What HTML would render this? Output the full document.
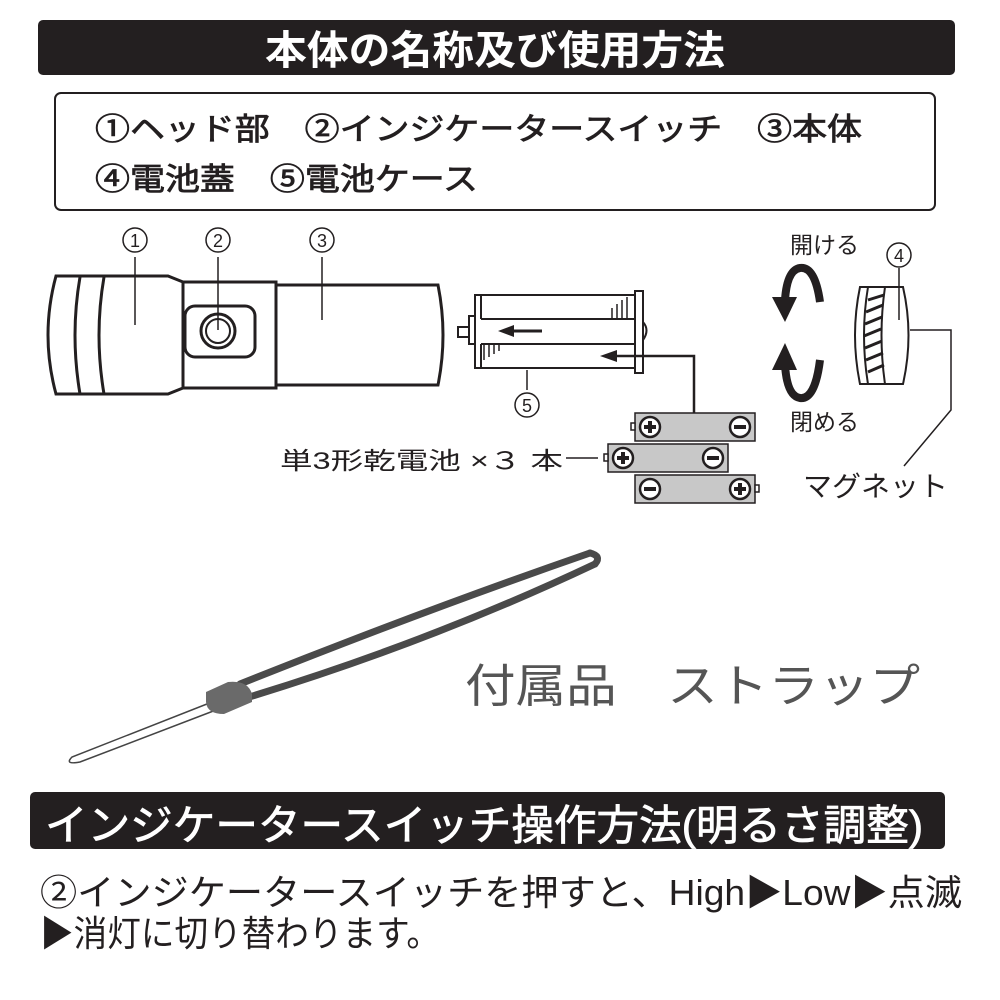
<!DOCTYPE html>
<html><head><meta charset="utf-8"><style>
html,body{margin:0;padding:0;background:#fff;}
svg{display:block;}
text{font-family:"Liberation Sans","Noto Sans CJK JP",sans-serif;}
</style></head><body>
<svg width="1000" height="1000" viewBox="0 0 1000 1000" xmlns="http://www.w3.org/2000/svg">
<!-- header -->
<rect x="38" y="20" width="917" height="55" rx="5" fill="#231f20"/>
<text x="265" y="64" font-size="40" font-weight="bold" fill="#fff" textLength="460" lengthAdjust="spacingAndGlyphs">本体の名称及び使用方法</text>
<rect x="55" y="93" width="880" height="117" rx="6" fill="none" stroke="#231f20" stroke-width="2"/>
<text x="95" y="140" font-size="31" fill="#231f20" stroke="#231f20" stroke-width="0.8" textLength="767" lengthAdjust="spacingAndGlyphs">①ヘッド部　②インジケータースイッチ　③本体</text>
<text x="95" y="190" font-size="31" fill="#231f20" stroke="#231f20" stroke-width="0.8" textLength="383" lengthAdjust="spacingAndGlyphs">④電池蓋　⑤電池ケース</text>

<!-- flashlight -->
<g fill="none" stroke="#231f20" stroke-width="3">
<path d="M56 276 Q40 335 56 394 L168 394 L183 388 L183 282 L168 276 Z"/>
<path d="M80 277 Q70 335 80 394"/>
<path d="M104 277 Q94 335 104 394"/>
<rect x="183" y="282" width="93" height="106"/>
<rect x="185" y="306" width="70" height="51" rx="10"/>
<circle cx="218" cy="331" r="17"/>
<circle cx="218" cy="331" r="12" stroke-width="2"/>
<path d="M276 285 L438 285 Q448 335 438 385 L276 385"/>
</g>
<g stroke="#231f20" stroke-width="1.5" fill="none">
<circle cx="135" cy="240" r="12"/><line x1="135" y1="257" x2="135" y2="325"/>
<circle cx="218" cy="240" r="12"/><line x1="218" y1="257" x2="218" y2="330"/>
<circle cx="322" cy="240" r="12"/><line x1="322" y1="257" x2="322" y2="320"/>
</g>
<text x="135" y="247" font-size="18" text-anchor="middle" fill="#231f20">1</text>
<text x="218" y="247" font-size="18" text-anchor="middle" fill="#231f20">2</text>
<text x="322" y="247" font-size="18" text-anchor="middle" fill="#231f20">3</text>

<!-- battery case -->
<g fill="none" stroke="#231f20" stroke-width="2">
<rect x="475" y="295" width="160" height="73"/>
<line x1="481" y1="295" x2="481" y2="319"/><line x1="481" y1="319" x2="635" y2="319"/>
<line x1="481" y1="344" x2="635" y2="344"/><line x1="481" y1="344" x2="481" y2="368"/>
<rect x="635" y="291" width="8" height="82" fill="#fff"/>
<rect x="469" y="316" width="6" height="28" fill="#fff"/>
<rect x="458" y="327" width="11" height="10" fill="#fff"/>
<path d="M643 322 Q650 330 643 340"/>
</g>
<g stroke="#231f20" stroke-width="1.5">
<line x1="612" y1="318" x2="612" y2="308"/><line x1="617" y1="318" x2="617" y2="304"/><line x1="622" y1="318" x2="622" y2="300"/><line x1="627" y1="318" x2="627" y2="297"/>
<line x1="484" y1="345" x2="484" y2="360"/><line x1="489" y1="345" x2="489" y2="357"/><line x1="494" y1="345" x2="494" y2="354"/><line x1="499" y1="345" x2="499" y2="351"/>
</g>
<path d="M542 331 L512 331" stroke="#231f20" stroke-width="3"/><path d="M498 331 L514 325 L514 337 Z" fill="#231f20"/>
<path d="M694 417 L694 356 L616 356" stroke="#231f20" stroke-width="2.5" fill="none"/><path d="M600 356 L617 350 L617 362 Z" fill="#231f20"/>
<line x1="527" y1="370" x2="527" y2="390" stroke="#231f20" stroke-width="1.5"/>
<circle cx="527" cy="405" r="12" stroke="#231f20" stroke-width="1.5" fill="none"/>
<text x="527" y="412" font-size="18" text-anchor="middle" fill="#231f20">5</text>

<!-- batteries -->
<g stroke="#231f20" stroke-width="1.5">
<rect x="635" y="413" width="120" height="28" fill="#c8c8c8"/>
<rect x="608" y="444" width="120" height="28" fill="#c8c8c8"/>
<rect x="635" y="475" width="120" height="28" fill="#c8c8c8"/>
<rect x="631" y="423" width="4" height="7" fill="#fff"/>
<rect x="604" y="454" width="4" height="7" fill="#fff"/>
<rect x="755" y="485" width="4" height="7" fill="#fff"/>
</g>
<g fill="#fff" stroke="#231f20" stroke-width="2.5">
<circle cx="650" cy="427" r="10"/><circle cx="740" cy="427" r="10"/>
<circle cx="623" cy="458" r="10"/><circle cx="713" cy="458" r="10"/>
<circle cx="650" cy="489" r="10"/><circle cx="740" cy="489" r="10"/>
</g>
<g stroke="#231f20" stroke-width="4">
<line x1="644" y1="427" x2="656" y2="427"/><line x1="650" y1="421" x2="650" y2="433"/><line x1="734" y1="427" x2="746" y2="427"/>
<line x1="617" y1="458" x2="629" y2="458"/><line x1="623" y1="452" x2="623" y2="464"/><line x1="707" y1="458" x2="719" y2="458"/>
<line x1="644" y1="489" x2="656" y2="489"/><line x1="734" y1="489" x2="746" y2="489"/><line x1="740" y1="483" x2="740" y2="495"/>
</g>
<text x="280" y="469" font-size="24" fill="#231f20" textLength="283" lengthAdjust="spacingAndGlyphs">単3形乾電池 ×３ 本</text>
<line x1="566" y1="458" x2="598" y2="458" stroke="#231f20" stroke-width="1.5"/>

<!-- rotation arrows -->
<text x="790" y="253" font-size="23" fill="#231f20">開ける</text>
<text x="790" y="430" font-size="23" fill="#231f20">閉める</text>
<path d="M820 302 Q815 266 800 268 Q787 270 785 300" fill="none" stroke="#231f20" stroke-width="8"/>
<path d="M772 297 L797 297 L785 322 Z" fill="#231f20"/>
<path d="M820 360 Q815 400 800 398 Q787 396 785 365" fill="none" stroke="#231f20" stroke-width="8"/>
<path d="M772 370 L797 370 L785 343 Z" fill="#231f20"/>

<!-- cap -->
<g stroke="#231f20" stroke-width="2" fill="#fff">
<path d="M860 287 L903 287 Q914 335 903 384 L860 384 Q850 335 860 287 Z"/>
<path d="M868 287 Q860 335 868 384" fill="none"/>
<path d="M885 287 Q878 335 885 384" fill="none"/>
</g>
<g stroke="#231f20" stroke-width="3">
<line x1="868" y1="300" x2="884" y2="295"/><line x1="866" y1="312" x2="883" y2="305"/><line x1="865" y1="324" x2="882" y2="317"/><line x1="864" y1="336" x2="881" y2="329"/><line x1="865" y1="348" x2="882" y2="341"/><line x1="866" y1="360" x2="883" y2="353"/><line x1="868" y1="372" x2="884" y2="365"/>
</g>
<circle cx="899" cy="255" r="12" stroke="#231f20" stroke-width="1.5" fill="none"/>
<text x="899" y="262" font-size="18" text-anchor="middle" fill="#231f20">4</text>
<line x1="899" y1="268" x2="899" y2="320" stroke="#231f20" stroke-width="1.5"/>
<path d="M910 330 L951 330 L951 410 L904 466" fill="none" stroke="#231f20" stroke-width="1.5"/>
<text x="803" y="496" font-size="28" fill="#231f20" textLength="145" lengthAdjust="spacingAndGlyphs">マグネット</text>

<!-- strap -->
<g fill="none" stroke-linecap="round">
<path d="M240 684 Q420 612 590 553" stroke="#4a4a4a" stroke-width="7"/>
<path d="M246 698 Q430 642 595 564" stroke="#4a4a4a" stroke-width="7"/>
<path d="M590 553 Q602 556 595 564" stroke="#4a4a4a" stroke-width="7"/>
<path d="M212 702 L72 757 Q64 765 80 762 L216 710" stroke="#444" stroke-width="1.5"/>
</g>
<path d="M206 692 L228 682 Q248 680 252 694 L252 702 L224 714 Q207 714 206 702 Z" fill="#6a6a6a"/>
<text x="465" y="702" font-size="46" fill="#555" textLength="455" lengthAdjust="spacingAndGlyphs">付属品　ストラップ</text>

<!-- second header -->
<rect x="30" y="792" width="915" height="57" rx="5" fill="#231f20"/>
<text x="45" y="840" font-size="42" fill="#fff" stroke="#fff" stroke-width="0.8" textLength="878" lengthAdjust="spacingAndGlyphs">インジケータースイッチ操作方法(明るさ調整)</text>
<text x="40" y="905" font-size="36" fill="#231f20" textLength="922" lengthAdjust="spacingAndGlyphs">②インジケータースイッチを押すと、High▶Low▶点滅</text>
<text x="40" y="946" font-size="36" fill="#231f20" textLength="400" lengthAdjust="spacingAndGlyphs">▶消灯に切り替わります。</text>
</svg>
</body></html>
